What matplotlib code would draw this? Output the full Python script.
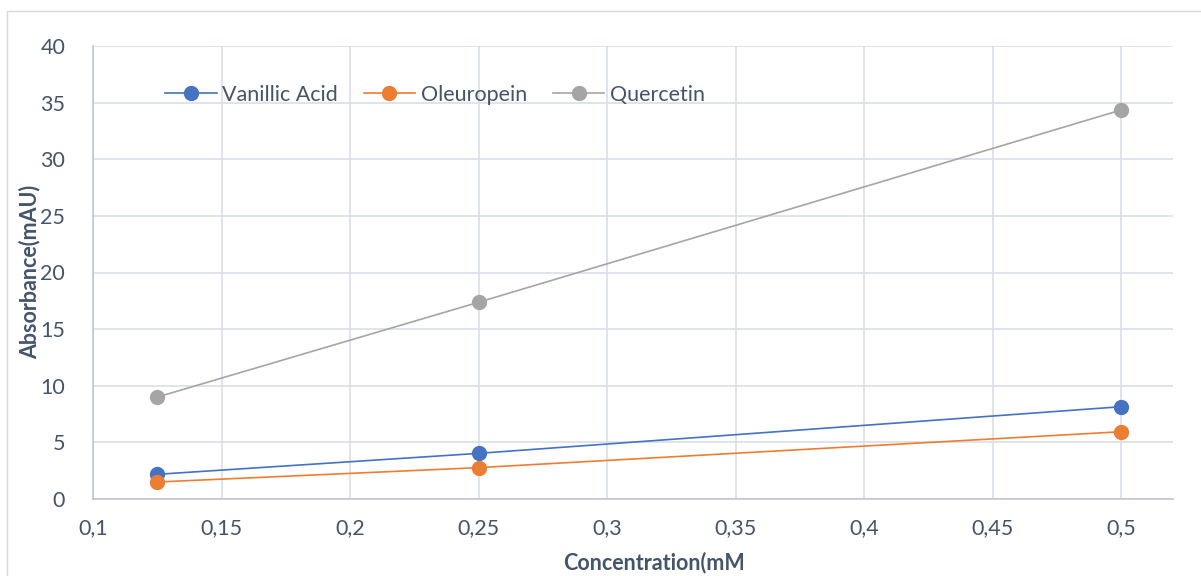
import matplotlib
matplotlib.use("Agg")
import matplotlib.pyplot as plt
from matplotlib.patches import Rectangle
from matplotlib.ticker import FuncFormatter, MultipleLocator

# Calibration data
concentration = [0.125, 0.25, 0.5]
vanillic_acid = [2.18, 4.03, 8.15]
oleuropein = [1.5, 2.77, 5.94]
quercetin = [9.0, 17.37, 34.35]

series_names = ["Vanillic Acid", "Oleuropein", "Quercetin"]
series_colors = ["#4472C4", "#ED7D31", "#A5A5A5"]

text_color = "#44546A"
grid_color = "#D9DEE6"
axis_color = "#BFC7D2"

plt.rcParams["font.family"] = ["Lato", "DejaVu Sans"]

W, H = 1201, 576
fig = plt.figure(figsize=(W / 100, H / 100), dpi=100)

# Chart-area border
fig.patches.append(Rectangle((7 / W, -0.1), 1.2, 1 - 11 / H + 0.1,
                             transform=fig.transFigure, fill=False,
                             edgecolor="#D9D9D9", linewidth=1.0))

ax = fig.add_axes([93 / W, 1 - 499 / H, (1172.5 - 93) / W, (499 - 46) / H])

for values, name, color in zip([vanillic_acid, oleuropein, quercetin],
                               series_names, series_colors):
    ax.plot(concentration, values, color=color, linewidth=1.2,
            marker="o", markersize=10, markeredgecolor=color,
            markerfacecolor=color, label=name, zorder=3)

ax.set_xlim(0.1, 0.52)
ax.set_ylim(0, 40)
ax.xaxis.set_major_locator(MultipleLocator(0.05))
ax.yaxis.set_major_locator(MultipleLocator(5))

def comma_fmt(v, pos):
    s = f"{v:.2f}".rstrip("0").rstrip(".")
    return s.replace(".", ",")

ax.xaxis.set_major_formatter(FuncFormatter(comma_fmt))
ax.yaxis.set_major_formatter(FuncFormatter(lambda v, p: f"{v:.0f}"))

ax.grid(True, color=grid_color, linewidth=1.2, zorder=0)
ax.set_axisbelow(True)
for side in ["top", "right"]:
    ax.spines[side].set_visible(False)
for side in ["left", "bottom"]:
    ax.spines[side].set_color(axis_color)
    ax.spines[side].set_linewidth(1.2)

ax.tick_params(axis="both", length=0, labelsize=15.5, labelcolor=text_color)
ax.tick_params(axis="y", pad=20)
ax.tick_params(axis="x", pad=14)

fig.text(30 / W, 1 - 272 / H, "Absorbance(mAU)", rotation=90, ha="center",
         va="center", fontsize=15.5, fontweight="bold", color=text_color)
fig.text(654 / W, 1 - 563 / H, "Concentration(mM", ha="center", va="center",
         fontsize=15.5, fontweight="bold", color=text_color)

leg = ax.legend(loc="center left", bbox_to_anchor=((165 - 93) / (1172.5 - 93), (499 - 95) / (499 - 46)),
                ncol=3, frameon=False, fontsize=15.5, handlelength=2.4,
                handletextpad=0.25, columnspacing=1.2, borderaxespad=0,
                borderpad=0)
for t in leg.get_texts():
    t.set_color(text_color)

fig.savefig("out.png", dpi=100)
